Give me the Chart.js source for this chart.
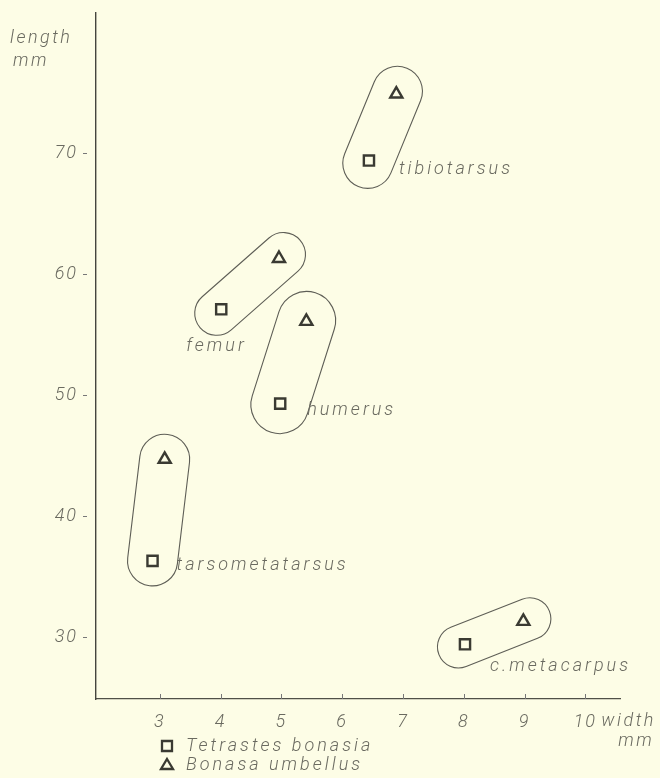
<!DOCTYPE html>
<html><head><meta charset="utf-8">
<script src="https://cdn.jsdelivr.net/npm/chart.js@4"></script>
<style>
html,body{margin:0;padding:0;background:#fdfde6;}
#wrap{position:relative;width:660px;height:778px;}
</style></head><body>
<div id="wrap"><canvas id="c"></canvas></div>
<script>
// ---- data ----
const bones = ['tibiotarsus', 'femur', 'humerus', 'tarsometatarsus', 'c.metacarpus'];
const tetrastesWidth  = [6.44, 4.01, 4.98, 2.88, 8.02];
const tetrastesLength = [69.4, 57.1, 49.3, 36.3, 29.4];
const bonasaWidth     = [6.89, 4.96, 5.41, 3.08, 8.98];
const bonasaLength    = [74.9, 61.3, 56.1, 44.7, 31.3];
const xTicks = [3, 4, 5, 6, 7, 8, 9, 10];
const yTicks = [30, 40, 50, 60, 70];
const seriesNames = ['Tetrastes bonasia', 'Bonasa umbellus'];
const xTitle = ['width', 'mm'];
const yTitle = ['length', 'mm'];

// ---- styles ----
const FAMILY = 'Roboto, "DejaVu Sans", sans-serif';
const TEXT = '#6a6a60';
const INK = '#3a3a32';
const LINE = '#5e5e56';
const groupStyle = {
  'tibiotarsus':     {r: 25, ext: 28, dx: 30,  dy: 9},
  'femur':           {r: 22, ext: 28, dx: -35, dy: 37},
  'humerus':         {r: 29, ext: 30, dx: 27,  dy: 7},
  'tarsometatarsus': {r: 25, ext: 25, dx: 24,  dy: 5},
  'c.metacarpus':    {r: 21, ext: 28, dx: 25,  dy: 22}
};

const decor = {
  id: 'decor',
  beforeDraw(chart) {
    chart.ctx.letterSpacing = '2px';
  },
  afterDatasetsDraw(chart) {
    const ctx = chart.ctx, xs = chart.scales.x, ys = chart.scales.y;
    const area = chart.chartArea;
    ctx.save();
    // enclosing outlines
    ctx.strokeStyle = LINE;
    ctx.lineWidth = 1.1;
    bones.forEach((b, i) => {
      const st = groupStyle[b];
      const p1 = {x: xs.getPixelForValue(tetrastesWidth[i]), y: ys.getPixelForValue(tetrastesLength[i])};
      const p2 = {x: xs.getPixelForValue(bonasaWidth[i]), y: ys.getPixelForValue(bonasaLength[i])};
      const dx = p2.x - p1.x, dy = p2.y - p1.y, L = Math.hypot(dx, dy);
      const ux = dx / L, uy = dy / L, e = st.ext - st.r;
      const c1 = {x: p1.x - ux * e, y: p1.y - uy * e};
      const c2 = {x: p2.x + ux * e, y: p2.y + uy * e};
      const a = Math.atan2(uy, ux);
      ctx.beginPath();
      ctx.arc(c2.x, c2.y, st.r, a - Math.PI / 2, a + Math.PI / 2);
      ctx.arc(c1.x, c1.y, st.r, a + Math.PI / 2, a + 3 * Math.PI / 2);
      ctx.closePath();
      ctx.stroke();
      // label
      ctx.font = 'italic 300 18px ' + FAMILY;
      ctx.letterSpacing = '3px';
      ctx.fillStyle = TEXT;
      ctx.textAlign = 'left';
      ctx.textBaseline = 'middle';
      ctx.fillText(b, p1.x + st.dx, p1.y + st.dy);
    });
    // y tick dashes
    ctx.strokeStyle = '#777';
    ctx.lineWidth = 1;
    yTicks.forEach(v => {
      const y = Math.round(ys.getPixelForValue(v)) + 0.5;
      ctx.beginPath(); ctx.moveTo(area.left - 13, y); ctx.lineTo(area.left - 9, y); ctx.stroke();
    });
    // x tick marks (small, upward)
    xTicks.forEach(v => {
      const x = Math.round(xs.getPixelForValue(v)) + 0.5;
      ctx.beginPath(); ctx.moveTo(x, area.bottom); ctx.lineTo(x, area.bottom - 5); ctx.stroke();
    });
    // axis titles
    ctx.font = 'italic 300 18px ' + FAMILY;
    ctx.letterSpacing = '2.5px';
    ctx.fillStyle = TEXT;
    ctx.textBaseline = 'middle';
    ctx.textAlign = 'left';
    ctx.fillText(yTitle[0], 10, 38);
    ctx.fillText(yTitle[1], 13, 61);
    const x10 = xs.getPixelForValue(10);
    ctx.fillText(xTitle[0], x10 + 16, area.bottom + 22);
    ctx.fillText(xTitle[1], x10 + 33, area.bottom + 42);
    // legend
    chart.data.datasets.forEach((ds, k) => {
      const y = area.bottom + 47 + k * 19;
      const cx = 167;
      ctx.strokeStyle = INK;
      ctx.lineWidth = 2.3;
      ctx.beginPath();
      if (ds.pointStyle === 'rect') {
        ctx.rect(cx - 5, y - 5, 10, 10);
      } else {
        ctx.moveTo(cx, y - 6); ctx.lineTo(cx + 6, y + 4); ctx.lineTo(cx - 6, y + 4); ctx.closePath();
      }
      ctx.stroke();
      ctx.fillStyle = TEXT;
      ctx.font = 'italic 300 18px ' + FAMILY;
      ctx.letterSpacing = '3px';
      ctx.fillText(ds.label, cx + 19, y);
    });
    ctx.restore();
  }
};

const tickFont = {family: FAMILY, style: 'italic', weight: 300, size: 18};

new Chart(document.getElementById('c'), {
  type: 'scatter',
  data: {
    datasets: [
      {
        label: seriesNames[0],
        data: bones.map((b, i) => ({x: tetrastesWidth[i], y: tetrastesLength[i]})),
        pointStyle: 'rect', radius: 7.2, borderWidth: 2.4,
        borderColor: INK, backgroundColor: 'rgba(0,0,0,0)'
      },
      {
        label: seriesNames[1],
        data: bones.map((b, i) => ({x: bonasaWidth[i], y: bonasaLength[i]})),
        pointStyle: 'triangle', radius: 7, borderWidth: 2.4,
        borderColor: INK, backgroundColor: 'rgba(0,0,0,0)'
      }
    ]
  },
  options: {
    responsive: true,
    maintainAspectRatio: false,
    animation: false,
    layout: {padding: {left: 0, top: 13, right: 40, bottom: 0}},
    plugins: {legend: {display: false}, tooltip: {enabled: false}},
    scales: {
      x: {
        type: 'linear', min: 1.95, max: 10.57,
        afterFit(s) { s.height = 79; s.paddingLeft = 0; s.paddingRight = 0; },
        afterBuildTicks(s) { s.ticks = xTicks.map(v => ({value: v})); },
        grid: {display: false, drawTicks: false},
        border: {color: '#505048', width: 1.3},
        ticks: {padding: 13, font: tickFont, color: TEXT, maxRotation: 0, autoSkip: false}
      },
      y: {
        type: 'linear', min: 24.88, max: 81.6,
        afterFit(s) { s.width = 96; s.paddingTop = 0; s.paddingBottom = 0; },
        afterBuildTicks(s) { s.ticks = yTicks.map(v => ({value: v})); },
        grid: {display: false, drawTicks: false},
        border: {color: '#45453e', width: 1.4},
        ticks: {padding: 18, font: tickFont, color: TEXT, autoSkip: false}
      }
    }
  },
  plugins: [decor]
});
</script>
</body></html>
